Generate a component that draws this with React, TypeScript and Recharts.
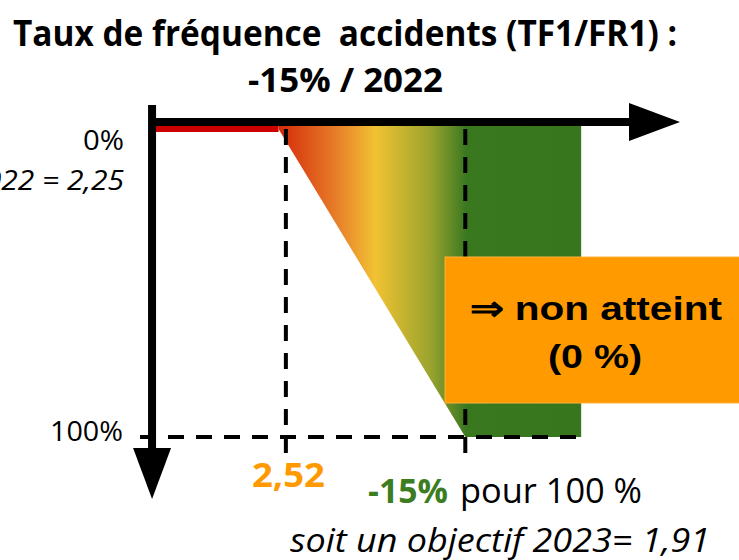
import React from "react";
import { ComposedChart, Area, Line, XAxis, YAxis, ReferenceLine } from "recharts";

// horizontal axis = TF value (reversed), vertical axis = % of objective reached
const titleLines = ["Taux de fréquence  accidents (TF1/FR1) :", "-15% / 2022"];
const levelLabels = ["0%", "100%"];
const refLabel = "TF 2022 = 2,25";
const thresholdLabel = "2,52";
const targetPct = "-15%";
const targetText = "pour 100 %";
const objectiveText = "soit un objectif 2023= 1,91";
const statusLines = ["⇒ non atteint", "(0 %)"];

const threshold = 2.52;
const target = 1.91;
const axisTf = 2.975;
const arrowTipTf = 1.18;
const dashStartTf = 3.016;
const greenEndTf = 1.516;
const axisPct = -2.27;
const axisTopPct = -7.8;
const axisBottomPct = 120.1;
const dashEndPct = 106.5;

const redTf = [2.975, 2.545];
const redPct = [0, 0];
const rampTf = [2.545, 1.91, 1.516];
const rampPct = [0, 100, 100];
const rampTop = -1.3;

const redRows = redTf.map((tf, i) => ({ tf, pct: redPct[i] }));
const rampRows = rampTf.map((tf, i) => ({ tf, top: rampTop, pct: rampPct[i] }));

const W = 739;
const H = 560;
const sans = "'Open Sans', sans-serif";
const arial = "'Liberation Sans', Arial, sans-serif";

const arrowShape = (dir: "h" | "v") => (p: any) => {
  const { x1, y1, x2, y2 } = p;
  const len = 51;
  const half = 19;
  if (dir === "h") {
    return (
      <g>
        <line x1={x1} y1={y1} x2={x2 - len + 2} y2={y2} stroke="#000" strokeWidth={8} />
        <polygon points={`${x2},${y2} ${x2 - len},${y2 - half} ${x2 - len},${y2 + half}`} fill="#000" />
      </g>
    );
  }
  return (
    <g>
      <line x1={x1} y1={y1} x2={x2} y2={y2 - len + 2} stroke="#000" strokeWidth={8} />
      <polygon points={`${x2},${y2} ${x2 - half},${y2 - len} ${x2 + half},${y2 - len}`} fill="#000" />
    </g>
  );
};

// annotations drawn on top of the chart
const Overlay = () => (
  <svg width={W} height={H} style={{ position: "absolute", left: 0, top: 0, pointerEvents: "none" }}>
    <text x={13} y={46} fontFamily={sans} fontWeight={700} fontSize={35} textLength={664} lengthAdjust="spacingAndGlyphs" style={{ whiteSpace: "pre" }}>
      {titleLines[0]}
    </text>
    <text x={248} y={92} fontFamily={sans} fontWeight={700} fontSize={34} textLength={195} lengthAdjust="spacingAndGlyphs">
      {titleLines[1]}
    </text>
    <text x={83} y={150} fontFamily={sans} fontSize={27} textLength={41} lengthAdjust="spacingAndGlyphs">{levelLabels[0]}</text>
    <text x={-69} y={190} fontFamily={sans} fontSize={27} fontStyle="italic" textLength={193} lengthAdjust="spacingAndGlyphs">{refLabel}</text>
    <text x={50} y={441} fontFamily={sans} fontSize={27} textLength={73} lengthAdjust="spacingAndGlyphs">{levelLabels[1]}</text>

    <rect x={445} y={257} width={300} height={146} fill="#FF9A00" stroke="#FFB13A" strokeWidth={1} />
    <text x={470} y={320} fontFamily={arial} fontWeight={700} fontSize={34} textLength={252} lengthAdjust="spacingAndGlyphs">
      {statusLines[0]}
    </text>
    <text x={548} y={368} fontFamily={arial} fontWeight={700} fontSize={34} textLength={94} lengthAdjust="spacingAndGlyphs">
      {statusLines[1]}
    </text>

    <text x={252} y={487} fontFamily={sans} fontWeight={700} fontSize={34} fill="#FF9900" textLength={73} lengthAdjust="spacingAndGlyphs">
      {thresholdLabel}
    </text>
    <text x={368} y={503} fontFamily={sans} fontWeight={700} fontSize={34} fill="#3C7D22" textLength={80} lengthAdjust="spacingAndGlyphs">
      {targetPct}
    </text>
    <text x={460} y={503} fontFamily={sans} fontSize={34} textLength={182} lengthAdjust="spacingAndGlyphs">
      {targetText}
    </text>
    <text x={290} y={552} fontFamily={sans} fontSize={32} fontStyle="italic" textLength={420} lengthAdjust="spacingAndGlyphs">
      {objectiveText}
    </text>
  </svg>
);

const App = () => {
  return (
    <div style={{ position: "absolute", left: 0, top: 0, width: W, height: H, background: "#fff" }}>
      <ComposedChart width={W} height={H} margin={{ top: 105, right: 59, bottom: 61, left: 130 }}>
        <defs>
          <linearGradient id="ramp" x1="0" y1="0" x2="1" y2="0">
            <stop offset="0" stopColor="#D42A0A" />
            <stop offset="0.2" stopColor="#E8822A" />
            <stop offset="0.32" stopColor="#F1C232" />
            <stop offset="0.5" stopColor="#9CA42E" />
            <stop offset="0.62" stopColor="#3A7820" />
            <stop offset="1" stopColor="#38761D" />
          </linearGradient>
        </defs>
        <XAxis type="number" dataKey="tf" domain={[arrowTipTf, 3.05]} reversed allowDataOverflow hide />
        <YAxis type="number" domain={[axisTopPct, axisBottomPct]} reversed allowDataOverflow hide />
        <Area
          data={rampRows}
          dataKey={(d: any) => [d.top, d.pct]}
          type="linear"
          stroke="none"
          fill="url(#ramp)"
          fillOpacity={1}
          isAnimationActive={false}
        />
        <Line data={redRows} dataKey="pct" type="linear" stroke="#CC0000" strokeWidth={6} dot={false} isAnimationActive={false} />
        <ReferenceLine segment={[{ x: threshold, y: 0 }, { x: threshold, y: dashEndPct }]} stroke="#000" strokeWidth={4} strokeDasharray="16 12" ifOverflow="visible" />
        <ReferenceLine segment={[{ x: target, y: 0 }, { x: target, y: dashEndPct }]} stroke="#000" strokeWidth={4} strokeDasharray="16 12" ifOverflow="visible" />
        <ReferenceLine segment={[{ x: dashStartTf, y: 100 }, { x: greenEndTf, y: 100 }]} stroke="#000" strokeWidth={4} strokeDasharray="16 12" ifOverflow="visible" />
        <ReferenceLine segment={[{ x: axisTf, y: axisPct }, { x: arrowTipTf, y: axisPct }]} shape={arrowShape("h")} ifOverflow="visible" />
        <ReferenceLine segment={[{ x: axisTf, y: axisTopPct }, { x: axisTf, y: axisBottomPct }]} shape={arrowShape("v")} ifOverflow="visible" />
      </ComposedChart>
      <Overlay />
    </div>
  );
};

export default App;
